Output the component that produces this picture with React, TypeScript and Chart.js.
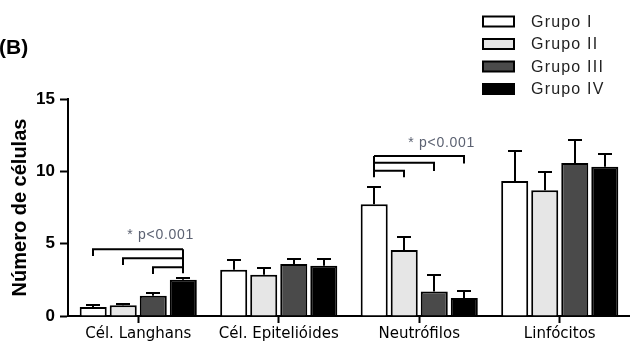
import React, { useEffect, useRef } from 'react';
import { Chart, registerables } from 'chart.js';

Chart.register(...registerables);

// ---- data ----
const categories = ['Cél. Langhans', 'Cél. Epitelióides', 'Neutrófilos', 'Linfócitos'];
const groupLabels = ['Grupo I', 'Grupo II', 'Grupo III', 'Grupo IV'];
const grupoI = [0.62, 3.2, 7.72, 9.33];
const grupoII = [0.74, 2.85, 4.57, 8.69];
const grupoIII = [1.4, 3.6, 1.7, 10.57];
const grupoIV = [2.5, 3.47, 1.24, 10.32];
const semI = [0.12, 0.65, 1.22, 2.09];
const semII = [0.12, 0.45, 0.86, 1.24];
const semIII = [0.22, 0.35, 1.15, 1.59];
const semIV = [0.12, 0.48, 0.46, 0.85];
const yMin = 0;
const yMax = 15;
const yStep = 5;
const yTitle = 'Número de células';
const panelLabel = '(B)';

// significance brackets
const sigLabel = '* p<0.001';
const bracketCats = [0, 2];
const bracketPivot = [3, 0];
const bracketTargets = [[0, 1, 2], [3, 2, 1]];
const bracketLevels = [[4.61, 3.99, 3.37], [11.06, 10.6, 10.04]];
const bracketEnds = [[4.15, 3.52, 2.9], [10.55, 10.02, 9.59]];
const bracketPivotEnds = [2.95, 9.59];
const bracketLabelY = [5.6, 11.95];

// ---- styles ----
const fills = ['#ffffff', '#e6e6e6', '#4a4a4a', '#000000'];
const sems = [semI, semII, semIII, semIV];
const ARIAL = "'Liberation Sans', Arial, sans-serif";

const errorBarsPlugin = {
  id: 'errorBars',
  afterDatasetsDraw(chart: any) {
    const ctx = chart.ctx;
    const ys = chart.scales.y;
    ctx.save();
    ctx.strokeStyle = '#000';
    ctx.lineWidth = 2;
    chart.data.datasets.forEach((ds: any, i: number) => {
      const meta = chart.getDatasetMeta(i);
      meta.data.forEach((bar: any, j: number) => {
        const v = ds.data[j];
        const top = Math.round(ys.getPixelForValue(v + sems[i][j]));
        const x = Math.round(bar.x);
        ctx.beginPath();
        ctx.moveTo(x, bar.y);
        ctx.lineTo(x, top);
        ctx.moveTo(x - 7, top);
        ctx.lineTo(x + 7, top);
        ctx.stroke();
      });
    });
    ctx.restore();
  },
};

const bracketsPlugin = {
  id: 'brackets',
  afterDatasetsDraw(chart: any) {
    const ctx = chart.ctx;
    const ys = chart.scales.y;
    ctx.save();
    ctx.strokeStyle = '#000';
    ctx.lineWidth = 2;
    bracketCats.forEach((cat, b) => {
      const px = Math.round(chart.getDatasetMeta(bracketPivot[b]).data[cat].x);
      const levels = bracketLevels[b];
      const ends = bracketEnds[b];
      let maxX = px;
      const topY = ys.getPixelForValue(Math.max(...levels));
      ctx.beginPath();
      ctx.moveTo(px, topY);
      ctx.lineTo(px, ys.getPixelForValue(bracketPivotEnds[b]));
      bracketTargets[b].forEach((t, k) => {
        const tx = Math.round(chart.getDatasetMeta(t).data[cat].x);
        maxX = Math.max(maxX, tx);
        const ly = ys.getPixelForValue(levels[k]);
        ctx.moveTo(px, ly);
        ctx.lineTo(tx, ly);
        ctx.lineTo(tx, ys.getPixelForValue(ends[k]));
      });
      ctx.stroke();
      ctx.fillStyle = '#5c6272';
      ctx.font = `14px ${ARIAL}`;
      (ctx as any).letterSpacing = '0.7px';
      ctx.textAlign = 'right';
      ctx.textBaseline = 'middle';
      ctx.fillText(sigLabel, maxX + 11, ys.getPixelForValue(bracketLabelY[b]));
      (ctx as any).letterSpacing = '0px';
    });
    ctx.restore();
  },
};

const legendPlugin = {
  id: 'customLegend',
  afterDraw(chart: any) {
    const ctx = chart.ctx;
    ctx.save();
    const boxX = 483;
    const boxW = 31;
    const boxH = 10;
    const textX = 531;
    const rowY0 = 21.5;
    const rowGap = 22.5;
    groupLabels.forEach((lab, i) => {
      const cy = rowY0 + i * rowGap;
      ctx.fillStyle = fills[i];
      ctx.fillRect(boxX, cy - boxH / 2, boxW, boxH);
      ctx.strokeStyle = '#000';
      ctx.lineWidth = 2;
      ctx.strokeRect(boxX, cy - boxH / 2, boxW, boxH);
      ctx.fillStyle = '#222222';
      ctx.font = `16px ${ARIAL}`;
      (ctx as any).letterSpacing = '1.2px';
      ctx.textAlign = 'left';
      ctx.textBaseline = 'middle';
      ctx.fillText(lab, textX, cy + 1);
    });
    (ctx as any).letterSpacing = '0px';
    ctx.fillStyle = '#000';
    ctx.font = `bold 21px ${ARIAL}`;
    ctx.textAlign = 'left';
    ctx.textBaseline = 'alphabetic';
    ctx.fillText(panelLabel, -1, 54);
    ctx.restore();
  },
};

export default function App() {
  const ref = useRef<HTMLCanvasElement | null>(null);

  useEffect(() => {
    if (!ref.current) return;
    const data = [grupoI, grupoII, grupoIII, grupoIV];
    const chart = new Chart(ref.current, {
      type: 'bar',
      data: {
        labels: categories,
        datasets: data.map((d, i) => ({
          label: groupLabels[i],
          data: d,
          backgroundColor: fills[i],
          borderColor: '#000',
          borderWidth: 2,
          categoryPercentage: 0.855,
          barPercentage: 0.9,
        })),
      },
      options: {
        animation: false,
        responsive: false,
        devicePixelRatio: 1,
        layout: { padding: { top: 99, left: 0, right: 0, bottom: 0 } },
        plugins: {
          legend: { display: false },
          tooltip: { enabled: false },
          title: { display: false },
        },
        scales: {
          x: {
            type: 'category',
            offset: true,
            grid: {
              offset: false,
              drawOnChartArea: false,
              drawTicks: true,
              tickLength: 7,
              tickWidth: 2,
              tickColor: '#000',
            },
            border: { display: true, color: '#000', width: 2 },
            ticks: {
              color: '#000',
              font: { family: "'DejaVu Sans', sans-serif", size: 15 },
              padding: 2,
              maxRotation: 0,
              autoSkip: false,
            },
            afterFit(scale: any) {
              scale.height = 30;
            },
          },
          y: {
            min: yMin,
            max: yMax,
            ticks: {
              stepSize: yStep,
              color: '#000',
              font: { family: ARIAL, size: 17, weight: 'bold' },
              padding: 5,
            },
            grid: {
              drawOnChartArea: false,
              drawTicks: true,
              tickLength: 8,
              tickWidth: 2,
              tickColor: '#000',
            },
            border: { display: true, color: '#000', width: 2 },
            title: {
              display: true,
              text: yTitle,
              color: '#000',
              font: { family: ARIAL, size: 20, weight: 'bold' },
              padding: { top: 8, bottom: 0 },
            },
            afterFit(scale: any) {
              scale.width = 68;
            },
          },
        },
      },
      plugins: [errorBarsPlugin, bracketsPlugin, legendPlugin],
    } as any);
    return () => chart.destroy();
  }, []);

  return (
    <div style={{ position: 'fixed', left: 0, top: 0, width: 630, height: 346, background: '#fff' }}>
      <canvas ref={ref} width={630} height={346} />
    </div>
  );
}
